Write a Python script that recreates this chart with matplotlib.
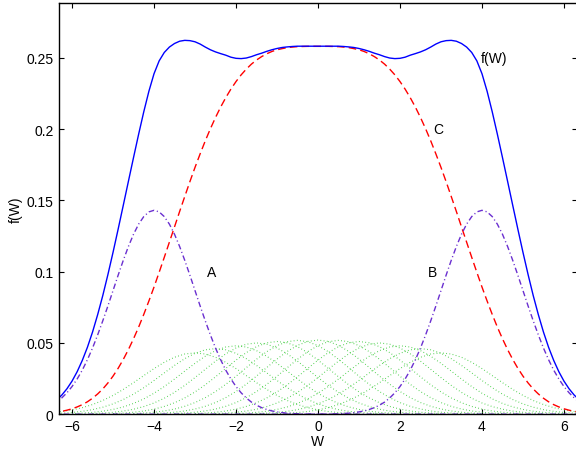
import numpy as np
import matplotlib
matplotlib.use('Agg')
import matplotlib.pyplot as plt

# Sample positions along W (step 0.125 from -6.5 to 6.5)
W = np.linspace(-6.5, 6.5, 105)

# Component A (dash-dot, left bump)
A = [0.0063, 0.0085, 0.0114, 0.0150, 0.0194, 0.0247, 0.0309, 0.0382, 0.0464, 0.0556,
     0.0655, 0.0759, 0.0867, 0.0975, 0.1079, 0.1176, 0.1262, 0.1333, 0.1386, 0.1419,
     0.1430, 0.1419, 0.1386, 0.1333, 0.1262, 0.1176, 0.1079, 0.0975, 0.0867, 0.0759,
     0.0655, 0.0556, 0.0464, 0.0382, 0.0309, 0.0247, 0.0194, 0.0150, 0.0114, 0.0085,
     0.0063, 0.0046, 0.0033, 0.0023, 0.0016, 0.0011, 0.0007, 0.0005, 0.0003, 0.0002,
     0.0001, 0.0001, 0.0000] + [0.0] * 52

# Component B (dash-dot, right bump)
B = [0.0] * 52 + [
     0.0000, 0.0001, 0.0001, 0.0002, 0.0003, 0.0005, 0.0007, 0.0011, 0.0016, 0.0023,
     0.0033, 0.0046, 0.0063, 0.0085, 0.0114, 0.0150, 0.0194, 0.0247, 0.0309, 0.0382,
     0.0464, 0.0556, 0.0655, 0.0759, 0.0867, 0.0975, 0.1079, 0.1176, 0.1262, 0.1333,
     0.1386, 0.1419, 0.1430, 0.1419, 0.1386, 0.1333, 0.1262, 0.1176, 0.1079, 0.0975,
     0.0867, 0.0759, 0.0655, 0.0556, 0.0464, 0.0382, 0.0309, 0.0247, 0.0194, 0.0150,
     0.0114, 0.0085, 0.0063]

# Component C (red dashed, central)
C = [0.0010, 0.0015, 0.0020, 0.0028, 0.0038, 0.0051, 0.0067, 0.0087, 0.0112, 0.0142,
     0.0177, 0.0219, 0.0267, 0.0322, 0.0384, 0.0453, 0.0529, 0.0611, 0.0700, 0.0794,
     0.0892, 0.0995, 0.1100, 0.1207, 0.1314, 0.1422, 0.1527, 0.1631, 0.1731, 0.1826,
     0.1917, 0.2002, 0.2081, 0.2154, 0.2220, 0.2280, 0.2333, 0.2380, 0.2420, 0.2455,
     0.2484, 0.2508, 0.2528, 0.2544, 0.2556, 0.2564, 0.2571, 0.2575, 0.2578, 0.2579,
     0.2580, 0.2580,
     0.2580, 0.2580, 0.2580, 0.2579, 0.2578, 0.2575, 0.2571, 0.2564, 0.2556, 0.2544,
     0.2528, 0.2508, 0.2484, 0.2455, 0.2420, 0.2380, 0.2333, 0.2280, 0.2220, 0.2154,
     0.2081, 0.2002, 0.1917, 0.1826, 0.1731, 0.1631, 0.1527, 0.1422, 0.1314, 0.1207,
     0.1100, 0.0995, 0.0892, 0.0794, 0.0700, 0.0611, 0.0529, 0.0453, 0.0384, 0.0322,
     0.0267, 0.0219, 0.0177, 0.0142, 0.0112, 0.0087, 0.0067, 0.0051, 0.0038, 0.0028,
     0.0020, 0.0015, 0.0010]

# Total f(W) (blue solid)
F = [0.0073, 0.0100, 0.0134, 0.0178, 0.0232, 0.0298, 0.0377, 0.0469, 0.0576, 0.0698,
     0.0832, 0.0979, 0.1135, 0.1298, 0.1465, 0.1633, 0.1800, 0.1964, 0.2121, 0.2265,
     0.2388, 0.2478, 0.2537, 0.2575, 0.2600, 0.2616, 0.2622, 0.2620, 0.2612, 0.2596,
     0.2575, 0.2556, 0.2541, 0.2529, 0.2518, 0.2504, 0.2496, 0.2494, 0.2498, 0.2508,
     0.2521, 0.2532, 0.2545, 0.2556, 0.2565, 0.2572, 0.2576, 0.2579, 0.2581, 0.2581,
     0.2581, 0.2581,
     0.2581, 0.2581, 0.2581, 0.2581, 0.2581, 0.2579, 0.2576, 0.2572, 0.2565, 0.2556,
     0.2545, 0.2532, 0.2521, 0.2508, 0.2498, 0.2494, 0.2496, 0.2504, 0.2518, 0.2529,
     0.2541, 0.2556, 0.2575, 0.2596, 0.2612, 0.2620, 0.2622, 0.2616, 0.2600, 0.2575,
     0.2537, 0.2478, 0.2388, 0.2265, 0.2121, 0.1964, 0.1800, 0.1633, 0.1465, 0.1298,
     0.1135, 0.0979, 0.0832, 0.0698, 0.0576, 0.0469, 0.0377, 0.0298, 0.0232, 0.0178,
     0.0134, 0.0100, 0.0073]

# Family of small dotted green bumps: shared shape, per-bump centre and height
bump_offsets = np.linspace(-4, 4, 33)
bump_shape = [0.0088, 0.0156, 0.0267, 0.0439, 0.0698, 0.1067, 0.1574, 0.2236, 0.3062,
              0.4041, 0.5139, 0.6298, 0.7439, 0.8467, 0.9287, 0.9817, 1.0000, 0.9817,
              0.9287, 0.8467, 0.7439, 0.6298, 0.5139, 0.4041, 0.3062, 0.2236, 0.1574,
              0.1067, 0.0698, 0.0439, 0.0267, 0.0156, 0.0088]
bump_centers = [-3.0, -2.5, -2.0, -1.5, -1.0, -0.5, 0.0, 0.5, 1.0, 1.5, 2.0, 2.5, 3.0]
bump_peaks = [0.043, 0.046, 0.048, 0.050, 0.051, 0.0518, 0.052, 0.0518, 0.051, 0.050,
              0.048, 0.046, 0.043]

xticks = [-6, -4, -2, 0, 2, 4, 6]
yticks = [0, 0.05, 0.1, 0.15, 0.2, 0.25]
ytick_labels = ['0', '0.05', '0.1', '0.15', '0.2', '0.25']

plt.rcParams['font.family'] = ['Liberation Sans', 'DejaVu Sans']
plt.rcParams['font.size'] = 10
fig = plt.figure(figsize=(5.76, 4.52), dpi=100)
ax = fig.add_axes([58.5/576, 1-415.2/452, 519/576, 411.2/452])

shape = np.array(bump_shape)
for c, p in zip(bump_centers, bump_peaks):
    ax.plot(bump_offsets + c, p*shape, color=(0.25, 0.8, 0.25), lw=0.8, dashes=(0.7, 2.2))
ax.plot(W, C, color='#ff0000', lw=1.0, dashes=(5.5, 3))
ax.plot(W, A, color='#6a2fd0', lw=1.0, dashes=(4, 2, 0.8, 2))
ax.plot(W, B, color='#6a2fd0', lw=1.0, dashes=(4, 2, 0.8, 2))
ax.plot(W, F, color='#0000ff', lw=1.0)

ax.text(3.97, 0.25, 'f(W)', va='center', ha='left')
ax.text(2.93, 0.2, 'C', va='center', ha='center')
ax.text(-2.6, 0.1, 'A', va='center', ha='center')
ax.text(2.8, 0.1, 'B', va='center', ha='center')

ax.set_xlim(-6.33, 6.33)
ax.set_ylim(0, 0.2884)
ax.set_xticks(xticks)
ax.set_yticks(yticks)
ax.set_yticklabels(ytick_labels)
ax.tick_params(direction='in', length=3.6, top=True, right=True, width=0.8)
for s in ax.spines.values():
    s.set_linewidth(1.0)
ax.set_xlabel('W', labelpad=1)
ax.set_ylabel('f(W)', labelpad=3)
fig.savefig('out.png', dpi=100)
